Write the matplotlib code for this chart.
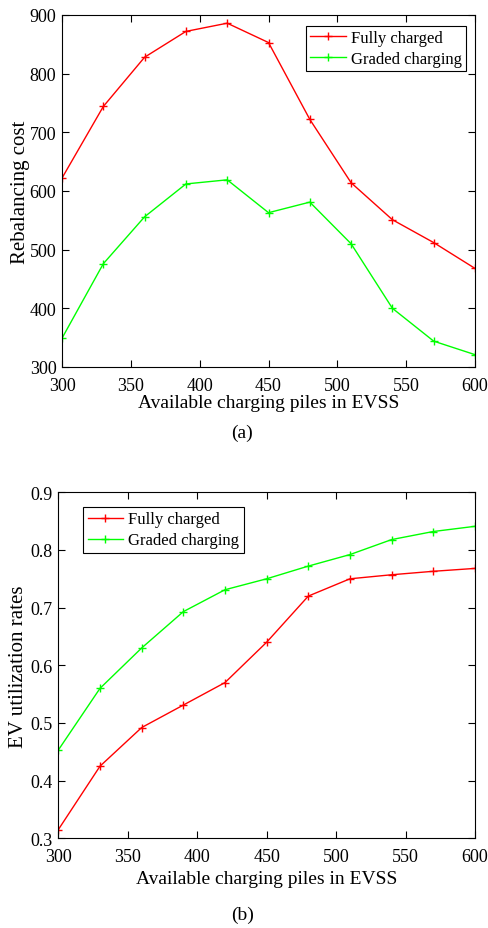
import matplotlib
matplotlib.use("Agg")
import matplotlib.pyplot as plt

plt.rcParams['font.family'] = ['Liberation Serif', 'DejaVu Serif']

piles = [300, 330, 360, 390, 420, 450, 480, 510, 540, 570, 600]

cost_full = [622, 744, 828, 872, 886, 853, 722, 614, 551, 512, 468]
cost_graded = [349, 476, 556, 612, 619, 563, 581, 510, 400, 344, 321]

util_full = [0.315, 0.425, 0.492, 0.531, 0.570, 0.640, 0.720, 0.750, 0.757, 0.763, 0.768]
util_graded = [0.453, 0.560, 0.630, 0.693, 0.731, 0.750, 0.772, 0.792, 0.818, 0.832, 0.841]

series_names = ['Fully charged', 'Graded charging']
xticks = [300, 350, 400, 450, 500, 550, 600]

fig = plt.figure(figsize=(4.89, 9.29), dpi=100)
ax1 = fig.add_axes([0.1268, 0.6039, 0.8446, 0.3789])
ax2 = fig.add_axes([0.1193, 0.0966, 0.8520, 0.3724])


def style(ax, xpad, label_y):
    ax.set_xlim(300, 600)
    ax.set_xticks(xticks)
    ax.tick_params(direction='in', top=True, right=True, labelsize=13,
                   length=5, width=0.8, pad=4)
    ax.tick_params(axis='x', pad=xpad)
    for sp in ax.spines.values():
        sp.set_linewidth(0.8)
    ax.set_xlabel('Available charging piles in EVSS', fontsize=14, va='center')
    ax.xaxis.set_label_coords(0.5, label_y)


def add_lines(ax, full, graded):
    ax.plot(piles, full, color='#ff0000', marker='+', ms=6, mew=1.0, lw=1.0, label=series_names[0])
    ax.plot(piles, graded, color='#00ff00', marker='+', ms=6, mew=1.0, lw=1.0, label=series_names[1])


leg_kw = dict(fontsize=12, fancybox=False, framealpha=1, edgecolor='black', borderaxespad=0.0,
              borderpad=0.25, handlelength=2.15, handletextpad=0.3, labelspacing=0.3)

# (a) rebalancing cost
add_lines(ax1, cost_full, cost_graded)
ax1.set_ylim(300, 900)
ax1.set_yticks([300, 400, 500, 600, 700, 800, 900])
ax1.set_ylabel('Rebalancing cost', fontsize=15, labelpad=0)
style(ax1, 7.2, -0.102)
leg1 = ax1.legend(loc='upper right', bbox_to_anchor=(0.978, 0.969), **leg_kw)
leg1.get_frame().set_linewidth(0.8)
fig.text(242 / 489, 1 - 433 / 929, '(a)', fontsize=14, ha='center', va='center')

# (b) EV utilization rates
add_lines(ax2, util_full, util_graded)
ax2.set_ylim(0.3, 0.9)
ax2.set_yticks([0.3, 0.4, 0.5, 0.6, 0.7, 0.8, 0.9])
ax2.set_ylabel('EV utilization rates', fontsize=15, labelpad=2)
style(ax2, 6.9, -0.1156)
leg2 = ax2.legend(loc='upper left', bbox_to_anchor=(0.06, 0.957), **leg_kw)
leg2.get_frame().set_linewidth(0.8)
fig.text(243 / 489, 1 - 915 / 929, '(b)', fontsize=14, ha='center', va='center')

fig.savefig('out.png', dpi=100)
